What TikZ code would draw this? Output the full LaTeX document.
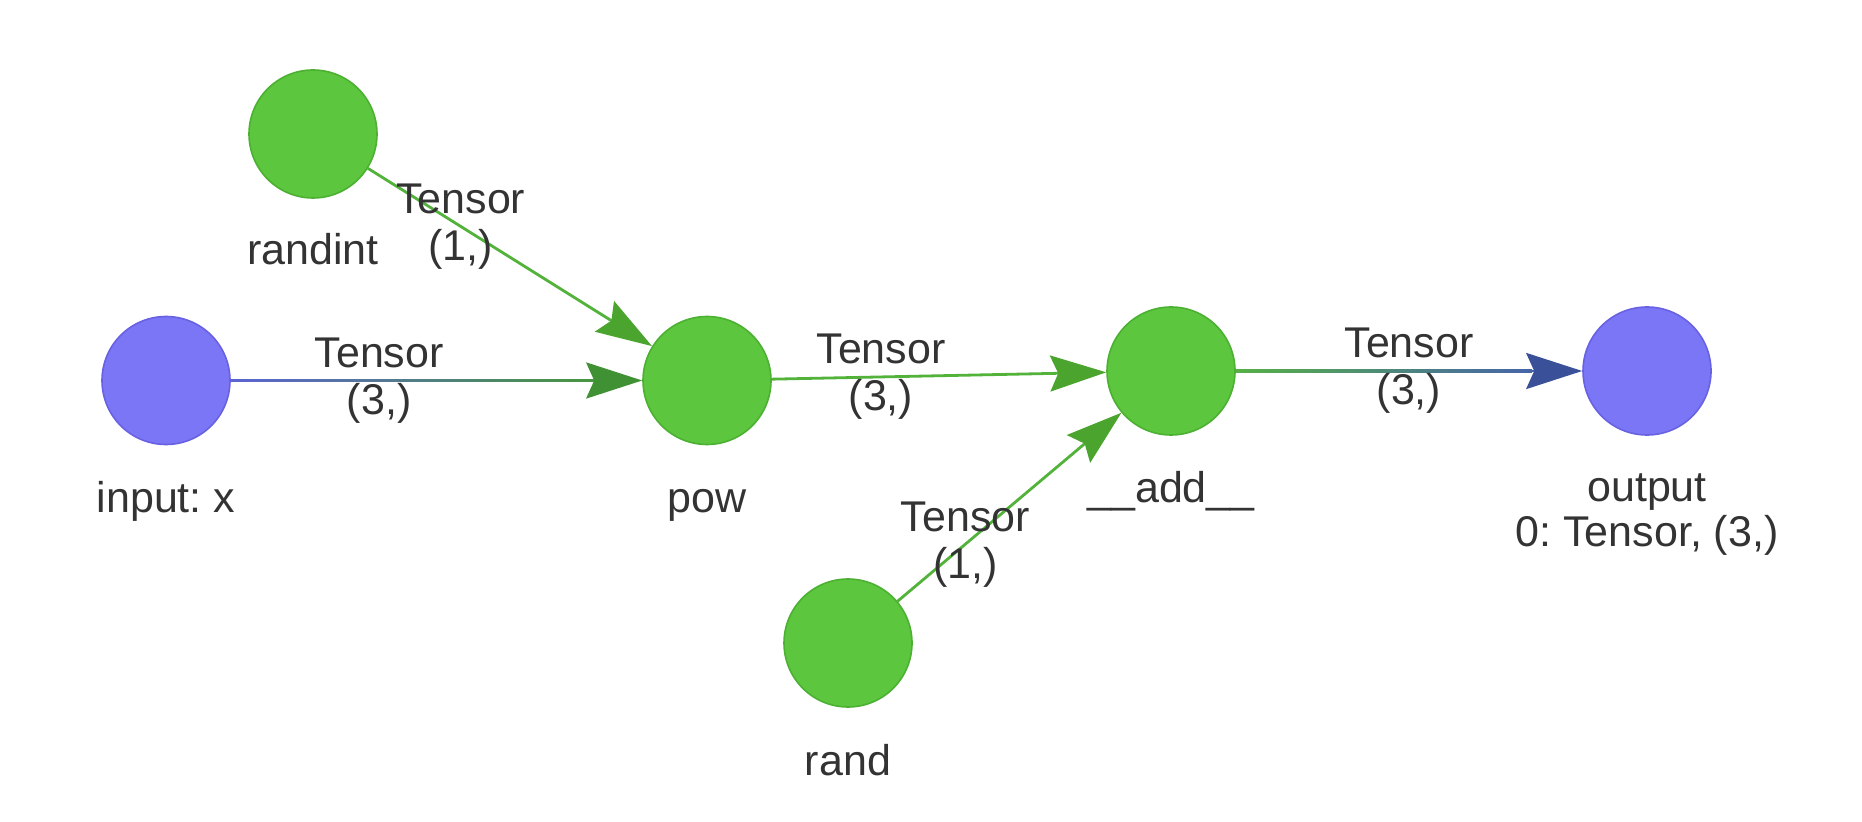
\documentclass[tikz,border=0pt]{standalone}
\usepackage{fontspec}
\setmainfont{Liberation Sans}
\usetikzlibrary{arrows.meta,calc}
\definecolor{nodegreen}{RGB}{92,198,62}
\definecolor{nodegreenline}{RGB}{76,176,50}
\definecolor{nodepurple}{RGB}{123,118,245}
\definecolor{nodepurpleline}{RGB}{104,98,226}
\definecolor{edgegreen}{RGB}{82,178,58}
\definecolor{headgreen}{RGB}{74,164,46}
\definecolor{headdkgreen}{RGB}{64,144,52}
\definecolor{headblue}{RGB}{58,80,152}
\definecolor{gradblue}{RGB}{92,100,210}
\definecolor{gradgreen}{RGB}{70,150,62}
\definecolor{gradgreenb}{RGB}{86,176,70}
\definecolor{gradblueb}{RGB}{70,100,170}
\definecolor{txt}{RGB}{51,51,51}
\frenchspacing
\begin{document}
\frenchspacing
\begin{tikzpicture}[x=0.5pt,y=-0.5pt,
  gnode/.style={circle, fill=nodegreen, draw=nodegreenline, line width=0.8pt, minimum size=64pt, inner sep=0pt},
  pnode/.style={circle, fill=nodepurple, draw=nodepurpleline, line width=0.8pt, minimum size=64pt, inner sep=0pt},
  nlabel/.style={text=txt, font=\fontsize{21.5}{22.5}\selectfont, inner sep=0pt, anchor=base, align=center},
  elabel/.style={text=txt, font=\fontsize{21.5}{23.5}\selectfont, inner sep=0pt, align=center},
  edgeline/.style={line width=1.4pt},
  tipgreen/.style={-{Stealth[length=28pt,width=18pt,inset=4pt,color=headgreen]}},
  tipdkgreen/.style={-{Stealth[length=28pt,width=18pt,inset=4pt,color=headdkgreen]}},
  tipblue/.style={-{Stealth[length=28pt,width=18pt,inset=4pt,color=headblue]}},
]
\useasboundingbox (0,0) rectangle (1862,822);

% nodes
\node[gnode] (randint) at (313,134) {};
\node[pnode] (in) at (166,380.5) {};
\node[gnode] (pow) at (707,380.5) {};
\node[gnode] (add) at (1171,371) {};
\node[pnode] (out) at (1647,371) {};
\node[gnode] (rand) at (848,643) {};

% node labels
\node[nlabel] (randintl) at ($(randint.center)+(0,131)$) {randint};
\node[nlabel] (inl) at ($(in.center)+(0,132)$) {input: x};
\node[nlabel] (powl) at ($(pow.center)+(0,132)$) {pow};
\node[nlabel] (addl) at ($(add.center)+(0,132)$) {\_\_add\_\_};
\node[nlabel] (outl) at ($(out.center)+(0,176)$) {output\\0: Tensor, (3,)};
\node[nlabel] (randl) at ($(rand.center)+(0,132)$) {rand};

% edges
\draw[edgeline, draw=edgegreen, tipgreen] (randint) -- (pow);
\draw[edgeline, draw=edgegreen, tipgreen] (pow) -- (add);
\draw[edgeline, draw=edgegreen, tipgreen] (rand) -- (add);
\draw[edgeline, draw=gradgreen, tipdkgreen] (in) -- (pow);
\shade[left color=gradblue, right color=gradgreen] ($(in.east)+(0,-1.4)$) rectangle ($(pow.west)+(-50,1.4)$);
\draw[edgeline, draw=gradblueb, tipblue] (add) -- (out);
\shade[left color=gradgreenb, right color=gradblueb] ($(add.east)+(0,-1.4)$) rectangle ($(out.west)+(-50,1.4)$);

% edge labels
\node[elabel] (e1) at ($(randint)!0.375!(pow)$) {Tensor\\(1,)};
\node[elabel] (e2) at ($(in)!0.394!(pow)$) {Tensor\\(3,)};
\node[elabel] (e3) at ($(pow)!0.375!(add)$) {Tensor\\(3,)};
\node[elabel] (e4) at ($(rand)!0.363!(add)$) {Tensor\\(1,)};
\node[elabel] (e5) at ($(add)!0.5!(out)$) {Tensor\\(3,)};
\end{tikzpicture}
\end{document}
